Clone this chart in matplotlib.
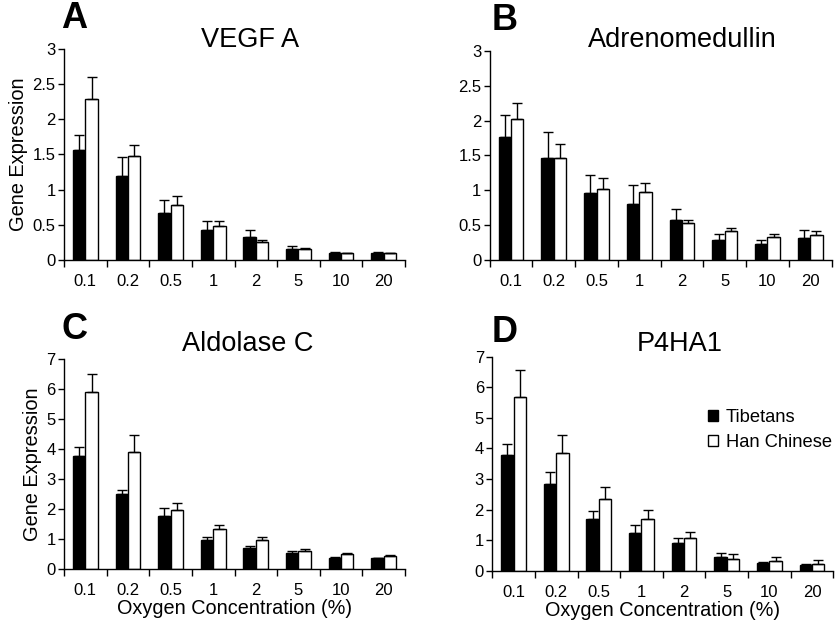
import numpy as np
import matplotlib
matplotlib.use("Agg")
import matplotlib.pyplot as plt
from matplotlib.patches import Patch

plt.rcParams['font.family'] = ['Liberation Sans', 'DejaVu Sans']

# Data
oxygen = ["0.1", "0.2", "0.5", "1", "2", "5", "10", "20"]

vegf_tib = [1.56, 1.20, 0.67, 0.42, 0.32, 0.16, 0.10, 0.10]
vegf_tib_err = [0.21, 0.26, 0.19, 0.14, 0.10, 0.04, 0.01, 0.01]
vegf_han = [2.29, 1.48, 0.78, 0.48, 0.25, 0.15, 0.095, 0.095]
vegf_han_err = [0.31, 0.16, 0.13, 0.08, 0.04, 0.02, 0.01, 0.01]

adm_tib = [1.76, 1.47, 0.96, 0.80, 0.58, 0.29, 0.23, 0.31]
adm_tib_err = [0.32, 0.37, 0.26, 0.27, 0.15, 0.09, 0.05, 0.12]
adm_han = [2.02, 1.46, 1.02, 0.98, 0.53, 0.41, 0.33, 0.36]
adm_han_err = [0.23, 0.21, 0.16, 0.13, 0.05, 0.05, 0.04, 0.05]

aldc_tib = [3.76, 2.49, 1.78, 0.98, 0.71, 0.52, 0.38, 0.36]
aldc_tib_err = [0.30, 0.15, 0.25, 0.08, 0.06, 0.07, 0.03, 0.02]
aldc_han = [5.90, 3.89, 1.96, 1.32, 0.96, 0.60, 0.49, 0.43]
aldc_han_err = [0.62, 0.57, 0.24, 0.14, 0.11, 0.08, 0.04, 0.04]

p4ha1_tib = [3.78, 2.84, 1.70, 1.23, 0.90, 0.46, 0.26, 0.20]
p4ha1_tib_err = [0.38, 0.40, 0.27, 0.27, 0.19, 0.12, 0.03, 0.02]
p4ha1_han = [5.67, 3.85, 2.35, 1.69, 1.06, 0.38, 0.32, 0.23]
p4ha1_han_err = [0.91, 0.60, 0.40, 0.30, 0.20, 0.17, 0.14, 0.11]

panels = [
    # letter, title, tib, tib err, han, han err, ymax, step, rect, letter pos, title pos
    ("A", "VEGF A", vegf_tib, vegf_tib_err, vegf_han, vegf_han_err, 3, 0.5,
     [0.0762, 0.586, 0.406, 0.336], (61, 19), (250, 40)),
    ("B", "Adrenomedullin", adm_tib, adm_tib_err, adm_han, adm_han_err, 3, 0.5,
     [0.583, 0.586, 0.407, 0.333], (492, 20), (682, 40)),
    ("C", "Aldolase C", aldc_tib, aldc_tib_err, aldc_han, aldc_han_err, 7, 1,
     [0.0762, 0.094, 0.406, 0.334], (61, 329), (248, 344)),
    ("D", "P4HA1", p4ha1_tib, p4ha1_tib_err, p4ha1_han, p4ha1_han_err, 7, 1,
     [0.586, 0.091, 0.406, 0.341], (492, 332), (680, 344)),
]

W, H = 840, 628
fig = plt.figure(figsize=(8.4, 6.28), dpi=100)

x = np.arange(len(oxygen))
bw = 0.29

for letter, title, tib, tib_e, han, han_e, ymax, step, rect, lpos, tpos in panels:
    ax = fig.add_axes(rect)
    ax.bar(x - bw / 2, tib, bw, color='black', edgecolor='black', linewidth=1,
           yerr=[np.zeros(len(tib)), tib_e], error_kw=dict(ecolor='black', elinewidth=1, capsize=3.5, capthick=1),
           label='Tibetans', zorder=2)
    ax.bar(x + bw / 2, han, bw, color='white', edgecolor='black', linewidth=1,
           yerr=[np.zeros(len(han)), han_e], error_kw=dict(ecolor='black', elinewidth=1, capsize=3.5, capthick=1),
           label='Han Chinese', zorder=2)
    ax.set_xlim(-0.5, len(oxygen) - 0.5)
    ax.set_ylim(0, ymax)
    yt = np.arange(0, ymax + step / 2, step)
    ax.set_yticks(yt)
    ax.set_yticklabels([f"{v:g}" for v in yt], fontsize=12)
    ax.set_xticks(x)
    ax.set_xticklabels(oxygen, fontsize=12)
    ax.set_xticks(np.arange(-0.5, len(oxygen)), minor=True)
    ax.tick_params(axis='x', which='major', length=0, pad=10)
    ax.tick_params(axis='x', which='minor', length=5, width=1, direction='out')
    ax.tick_params(axis='y', length=4, width=1, direction='out', pad=2)
    for s in ['top', 'right']:
        ax.spines[s].set_visible(False)
    for s in ['left', 'bottom']:
        ax.spines[s].set_linewidth(1)
    if letter in ("A", "C"):
        ax.set_ylabel("Gene Expression", fontsize=14.4, labelpad=3)
    if letter in ("C", "D"):
        ax.set_xlabel("Oxygen Concentration (%)", fontsize=14.3, labelpad=1)
    fig.text(lpos[0] / W, 1 - lpos[1] / H, letter, fontsize=26, fontweight='bold',
             ha='left', va='center')
    fig.text(tpos[0] / W, 1 - tpos[1] / H, title, fontsize=19.5, ha='center', va='center')
    if letter == "D":
        handles = [Patch(facecolor='black', edgecolor='black', label='Tibetans'),
                   Patch(facecolor='white', edgecolor='black', label='Han Chinese')]
        ax.legend(handles=handles, loc='upper left', bbox_to_anchor=(0.61, 0.79),
                  frameon=False, fontsize=13.2, handlelength=0.55, handleheight=0.55,
                  handletextpad=0.45, labelspacing=0.45, borderaxespad=0)

fig.savefig("out.png", dpi=100)
